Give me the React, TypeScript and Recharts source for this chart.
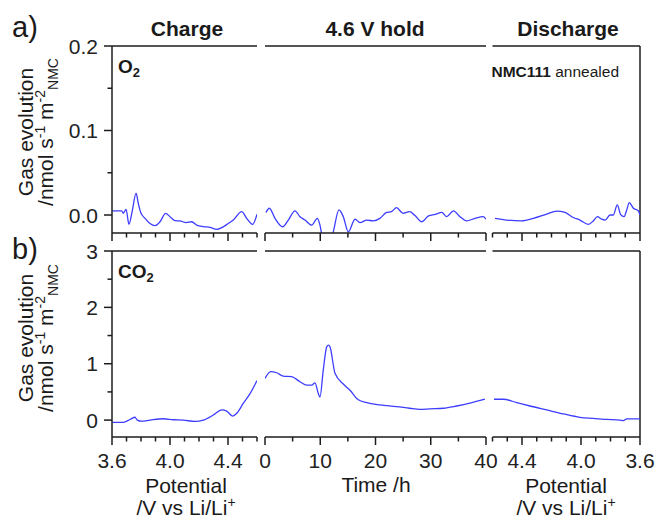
import { LineChart, Line, XAxis, YAxis, ReferenceLine } from "recharts";

const FONT = '"Liberation Sans", Arial, sans-serif';
const AXIS = "#1c1c1c";
const BLUE = "#3d3dff";
const W = 657;
const H = 519;

// O2, charge (potential /V) 
const o2ChargeV = [3.602, 3.667, 3.678, 3.697, 3.717, 3.74, 3.766, 3.781, 3.798, 3.828, 3.862, 3.897, 3.931, 3.97, 4.0, 4.034, 4.069, 4.11, 4.15, 4.184, 4.23, 4.276, 4.322, 4.357, 4.402, 4.437, 4.494, 4.529, 4.57, 4.6];
const o2ChargeRate = [0.005, 0.005, 0.002, 0.0067, -0.011, 0.005, 0.026, 0.014, 0.003, -0.004, -0.01, -0.0126, -0.008, 0.002, -0.002, -0.0067, -0.007, -0.009, -0.008, -0.012, -0.0138, -0.0146, -0.017, -0.015, -0.01, -0.006, 0.004, -0.004, -0.011, 0.001];

// O2, 4.6 V hold (time /h)
const o2HoldT = [0.18, 0.78, 1.81, 3.2, 4.22, 5.43, 6.33, 7.24, 8.45, 9.47, 9.95, 10.5, 11.2, 11.85, 12.36, 13.39, 14.17, 15.08, 16.29, 17.19, 18.41, 19.6, 20.8, 22.0, 22.9, 23.8, 25.0, 26.2, 27.1, 28.4, 29.6, 30.8, 32.0, 32.9, 34.1, 35.3, 36.5, 38.0, 39.5, 40];
const o2HoldRate = [0.003, 0.008, -0.004, -0.014, -0.006, 0.005, -0.002, -0.006, -0.012, -0.004, -0.012, -0.032, -0.045, -0.032, -0.02, 0.006, -0.002, -0.02, -0.005, -0.009, -0.006, -0.007, -0.004, 0.003, 0.004, 0.0087, 0.002, 0.004, -0.0004, -0.008, -0.001, 0.0008, 0.003, -0.002, 0.005, -0.002, -0.007, -0.004, -0.002, -0.005];

// O2, discharge
const o2DischargeV = [4.583, 4.504, 4.402, 4.323, 4.233, 4.165, 4.108, 4.052, 4.007, 3.95, 3.917, 3.889, 3.86, 3.837, 3.803, 3.781, 3.754, 3.731, 3.708, 3.69, 3.673, 3.645, 3.612, 3.6];
const o2DischargeRate = [-0.004, -0.006, -0.007, -0.004, 0.001, 0.0047, 0.003, -0.003, -0.006, -0.011, -0.007, -0.002, -0.005, -0.006, 0.0, 0.0, 0.012, 0.0004, -0.002, 0.006, 0.0146, 0.008, 0.005, 0.0];

// CO2, charge
const co2ChargeV = [3.602, 3.678, 3.724, 3.759, 3.774, 3.805, 3.862, 3.954, 4.023, 4.092, 4.172, 4.23, 4.299, 4.357, 4.391, 4.432, 4.46, 4.506, 4.552, 4.6];
const co2ChargeRate = [-0.04, -0.04, 0.01, 0.05, 0.0, -0.02, 0.0, 0.024, 0.006, 0.0, -0.024, 0.0, 0.09, 0.18, 0.16, 0.07, 0.12, 0.3, 0.47, 0.7];

// CO2, 4.6 V hold
const co2HoldT = [0, 1.03, 2.12, 3.31, 4.83, 6.33, 7.55, 8.45, 9.05, 9.65, 9.95, 10.55, 11.17, 11.5, 11.76, 12.67, 14.17, 15.38, 16.89, 18.4, 20.8, 23.8, 26.2, 28.05, 29.86, 32.3, 34.7, 37.1, 39.8];
const co2HoldRate = [0.74, 0.86, 0.84, 0.78, 0.77, 0.68, 0.62, 0.62, 0.66, 0.47, 0.41, 0.89, 1.3, 1.33, 1.3, 0.83, 0.64, 0.53, 0.36, 0.31, 0.27, 0.24, 0.21, 0.19, 0.2, 0.21, 0.25, 0.3, 0.37];

// CO2, discharge
const co2DischargeV = [4.59, 4.527, 4.436, 4.346, 4.233, 4.12, 4.007, 3.917, 3.826, 3.736, 3.713, 3.69, 3.6];
const co2DischargeRate = [0.37, 0.37, 0.31, 0.25, 0.18, 0.11, 0.05, 0.03, 0.012, 0.0, -0.01, 0.02, 0.02];

// ticks
const potentialTicks = [3.6, 3.7, 3.8, 3.9, 4.0, 4.1, 4.2, 4.3, 4.4, 4.5, 4.6];
const potentialMajor = [3.6, 4.0, 4.4];
const timeTicks = [0, 5, 10, 15, 20, 25, 30, 35, 40];
const timeMajor = [0, 10, 20, 30, 40];
const o2Ticks = [0, 0.05, 0.1, 0.15, 0.2];
const o2Major = [0, 0.1, 0.2];
const co2Ticks = [0, 0.5, 1, 1.5, 2, 2.5, 3];
const co2Major = [0, 1, 2, 3];

const zip = (xs: number[], ys: number[]) => xs.map((x, i) => ({ x, y: ys[i] }));

// plot rectangles (px)
const COL_CHARGE: [number, number] = [112, 257];
const COL_HOLD: [number, number] = [265, 486];
const COL_DIS: [number, number] = [492.5, 640];
const ROW_A: [number, number] = [46, 233];
const ROW_B: [number, number] = [251, 437];

const XTick = ({ x, y, payload, major, labels, fmt }: any) => {
  const isMajor = major.includes(payload.value);
  return (
    <g>
      <line x1={x} x2={x} y1={y} y2={y + (isMajor ? 8 : 4.5)} stroke={AXIS} strokeWidth={1.5} />
      {labels && isMajor && (
        <text x={x} y={y + 31} textAnchor="middle" fontSize={21} fontFamily={FONT} fill="#222">
          {fmt(payload.value)}
        </text>
      )}
    </g>
  );
};

const YTick = ({ x, y, payload, major, fmt }: any) => {
  const isMajor = major.includes(payload.value);
  return (
    <g>
      <line x1={x - (isMajor ? 8 : 4.5)} x2={x} y1={y} y2={y} stroke={AXIS} strokeWidth={1.5} />
      {isMajor && (
        <text x={x - 14} y={y + 7.5} textAnchor="end" fontSize={21} fontFamily={FONT} fill="#222">
          {fmt(payload.value)}
        </text>
      )}
    </g>
  );
};

interface PanelProps {
  data: { x: number; y: number }[];
  col: [number, number];
  row: [number, number];
  xDomain: [number, number];
  xTicks: number[];
  xMajor: number[];
  fmtX: (v: number) => string;
  reversed?: boolean;
  xLabels?: boolean;
  yDomain: [number, number];
  yTicks: number[];
  yMajor: number[];
  fmtY: (v: number) => string;
  showY?: boolean;
  rightEdge?: boolean;
}

const Panel = (p: PanelProps) => {
  const yW = 60;
  const xH = 40;
  const margin = {
    top: p.row[0],
    right: W - p.col[1],
    bottom: H - p.row[1] - xH,
    left: p.showY ? p.col[0] - yW : p.col[0],
  };
  return (
    <div style={{ position: "absolute", left: 0, top: 0 }}>
      <LineChart width={W} height={H} data={p.data} margin={margin}>
        <XAxis
          dataKey="x"
          type="number"
          domain={p.xDomain}
          reversed={p.reversed}
          ticks={p.xTicks}
          interval={0}
          height={xH}
          tickSize={0}
          tickMargin={0}
          tickLine={false}
          axisLine={{ stroke: AXIS, strokeWidth: 1.5 }}
          allowDataOverflow
          tick={(t: any) => <XTick {...t} major={p.xMajor} labels={p.xLabels} fmt={p.fmtX} />}
        />
        <YAxis
          type="number"
          domain={p.yDomain}
          allowDataOverflow
          hide={!p.showY}
          width={yW}
          ticks={p.yTicks}
          interval={0}
          tickSize={0}
          tickMargin={0}
          tickLine={false}
          axisLine={{ stroke: AXIS, strokeWidth: 1.5 }}
          tick={(t: any) => <YTick {...t} major={p.yMajor} fmt={p.fmtY} />}
        />
        <ReferenceLine y={p.yDomain[1]} stroke={AXIS} strokeWidth={1.5} />
        {p.rightEdge && <ReferenceLine x={p.xDomain[0]} stroke={AXIS} strokeWidth={1.5} />}
        <Line
          type="monotone"
          dataKey="y"
          stroke={BLUE}
          strokeWidth={1.3}
          dot={false}
          isAnimationActive={false}
        />
      </LineChart>
    </div>
  );
};

const fmtV = (v: number) => v.toFixed(1);
const fmtT = (v: number) => String(v);
const fmtO2 = (v: number) => v.toFixed(1);
const fmtCO2 = (v: number) => String(v);

const O2_DOMAIN: [number, number] = [-0.0213, 0.2];
const CO2_DOMAIN: [number, number] = [-0.3, 3];

const YTitle = ({ cy }: { cy: number }) => (
  <>
    <text transform={`translate(33,${cy}) rotate(-90)`} textAnchor="middle" fontSize={21}>
      Gas evolution
    </text>
    <text transform={`translate(53,${cy}) rotate(-90)`} textAnchor="middle" fontSize={21}>
      /nmol s<tspan dy={-8} fontSize={14}>-1</tspan>
      <tspan dy={8}> m</tspan>
      <tspan dy={-8} fontSize={14}>-2</tspan>
      <tspan dy={13} fontSize={14}>NMC</tspan>
    </text>
  </>
);

const PotentialTitle = ({ cx }: { cx: number }) => (
  <>
    <text x={cx} y={493} textAnchor="middle" fontSize={21}>Potential</text>
    <text x={cx} y={515} textAnchor="middle" fontSize={21}>
      /V vs Li/Li<tspan dy={-8} fontSize={14}>+</tspan>
    </text>
  </>
);

export default function App() {
  return (
    <div style={{ position: "absolute", left: 0, top: 0, width: W, height: H, background: "#fff" }}>
      <Panel data={zip(o2ChargeV, o2ChargeRate)} col={COL_CHARGE} row={ROW_A} xDomain={[3.6, 4.6]}
        xTicks={potentialTicks} xMajor={potentialMajor} fmtX={fmtV} yDomain={O2_DOMAIN}
        yTicks={o2Ticks} yMajor={o2Major} fmtY={fmtO2} showY />
      <Panel data={zip(o2HoldT, o2HoldRate)} col={COL_HOLD} row={ROW_A} xDomain={[0, 40]}
        xTicks={timeTicks} xMajor={timeMajor} fmtX={fmtT} yDomain={O2_DOMAIN}
        yTicks={o2Ticks} yMajor={o2Major} fmtY={fmtO2} />
      <Panel data={zip(o2DischargeV, o2DischargeRate)} col={COL_DIS} row={ROW_A} xDomain={[3.6, 4.6]} reversed
        xTicks={potentialTicks} xMajor={potentialMajor} fmtX={fmtV} yDomain={O2_DOMAIN}
        yTicks={o2Ticks} yMajor={o2Major} fmtY={fmtO2} rightEdge />
      <Panel data={zip(co2ChargeV, co2ChargeRate)} col={COL_CHARGE} row={ROW_B} xDomain={[3.6, 4.6]}
        xTicks={potentialTicks} xMajor={potentialMajor} fmtX={fmtV} xLabels yDomain={CO2_DOMAIN}
        yTicks={co2Ticks} yMajor={co2Major} fmtY={fmtCO2} showY />
      <Panel data={zip(co2HoldT, co2HoldRate)} col={COL_HOLD} row={ROW_B} xDomain={[0, 40]}
        xTicks={timeTicks} xMajor={timeMajor} fmtX={fmtT} xLabels yDomain={CO2_DOMAIN}
        yTicks={co2Ticks} yMajor={co2Major} fmtY={fmtCO2} />
      <Panel data={zip(co2DischargeV, co2DischargeRate)} col={COL_DIS} row={ROW_B} xDomain={[3.6, 4.6]} reversed
        xTicks={potentialTicks} xMajor={potentialMajor} fmtX={fmtV} xLabels yDomain={CO2_DOMAIN}
        yTicks={co2Ticks} yMajor={co2Major} fmtY={fmtCO2} rightEdge />

      <svg width={W} height={H} style={{ position: "absolute", left: 0, top: 0, pointerEvents: "none" }}
        fontFamily={FONT} fill="#1a1a1a">
        <text x={12} y={37} fontSize={29}>a)</text>
        <text x={12} y={259} fontSize={29}>b)</text>

        <text x={187} y={36} textAnchor="middle" fontSize={21} fontWeight="bold">Charge</text>
        <text x={375} y={36} textAnchor="middle" fontSize={21} fontWeight="bold">4.6 V hold</text>
        <text x={568} y={36} textAnchor="middle" fontSize={21} fontWeight="bold">Discharge</text>

        <text x={118} y={73} fontSize={19} fontWeight="bold">
          O<tspan dy={4} fontSize={13}>2</tspan>
        </text>
        <text x={118} y={278} fontSize={19} fontWeight="bold">
          CO<tspan dy={4} fontSize={13}>2</tspan>
        </text>
        <text x={619} y={77} textAnchor="end" fontSize={15.5}>
          <tspan fontWeight="bold">NMC111</tspan> annealed
        </text>

        <YTitle cy={132} />
        <YTitle cy={338} />

        <PotentialTitle cx={186} />
        <text x={376} y={492} textAnchor="middle" fontSize={21}>Time /h</text>
        <PotentialTitle cx={566} />
      </svg>
    </div>
  );
}
